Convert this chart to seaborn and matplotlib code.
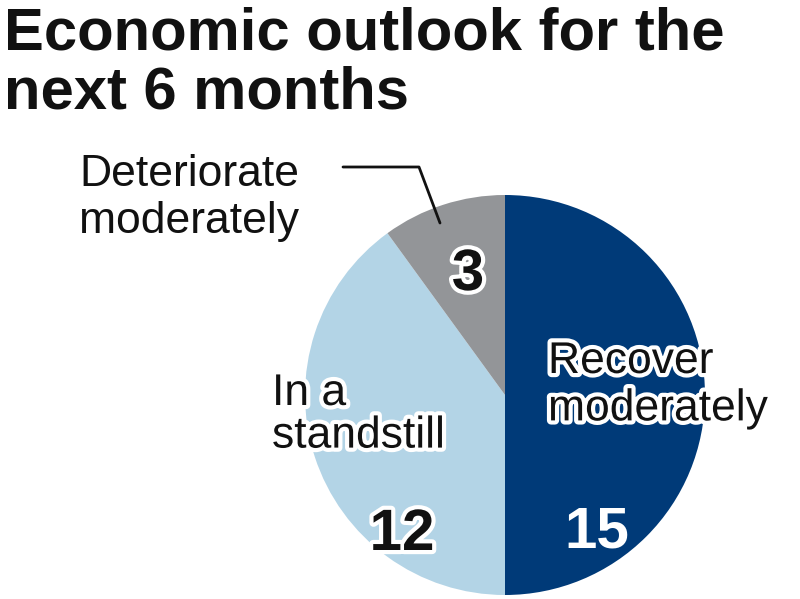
import matplotlib
matplotlib.use("Agg")
import matplotlib.pyplot as plt
import matplotlib.patheffects as pe
import seaborn as sns

sns.set_style("white")
plt.rcParams["font.family"] = ["Liberation Sans", "DejaVu Sans"]

# data
labels = ["Recover\nmoderately", "In a\nstandstill", "Deteriorate\nmoderately"]
values = [15, 12, 3]
colors = ["#003a78", "#b3d4e6", "#939598"]
title = "Economic outlook for the\nnext 6 months"

W, H = 800, 599
fig = plt.figure(figsize=(W / 100, H / 100), dpi=100)


def px(x, y):
    # pixel position -> figure fraction
    return x / W, 1 - y / H


# pie axes: centre (505, 395), radius 200 px
ax = fig.add_axes([305 / W, 4 / H, 400 / W, 400 / H])
ax.pie(values, colors=colors, startangle=90, counterclock=False,
       wedgeprops=dict(linewidth=0))
ax.set_xlim(-1, 1)
ax.set_ylim(-1, 1)
ax.set_aspect("equal")
ax.axis("off")

outline = [pe.withStroke(linewidth=6, foreground="white")]
ink = "#111111"

fig.text(*px(4, 7), title, ha="left", va="top", fontsize=43,
         fontweight="bold", linespacing=1.09, color=ink)

# category labels
fig.text(*px(548, 341), labels[0], ha="left", va="top", fontsize=32,
         linespacing=1.2, color=ink, path_effects=outline)
fig.text(*px(272, 373), labels[1], ha="left", va="top", fontsize=32,
         linespacing=1.05, color=ink, path_effects=outline)
fig.text(*px(79, 154), labels[2], ha="left", va="top", fontsize=32,
         linespacing=1.2, color=ink)

# values
fig.text(*px(597, 548), str(values[0]), ha="center", va="baseline",
         fontsize=42, fontweight="bold", color="white")
fig.text(*px(402, 550), str(values[1]), ha="center", va="baseline",
         fontsize=42, fontweight="bold", color=ink, path_effects=outline)
fig.text(*px(468, 290), str(values[2]), ha="center", va="baseline",
         fontsize=42, fontweight="bold", color=ink, path_effects=outline)

# leader line for the small slice
fig.add_artist(plt.Line2D([343 / W, 419 / W, 440 / W],
                          [1 - 167 / H, 1 - 167 / H, 1 - 223 / H],
                          color=ink, linewidth=2))

fig.savefig("out.png", dpi=100)
